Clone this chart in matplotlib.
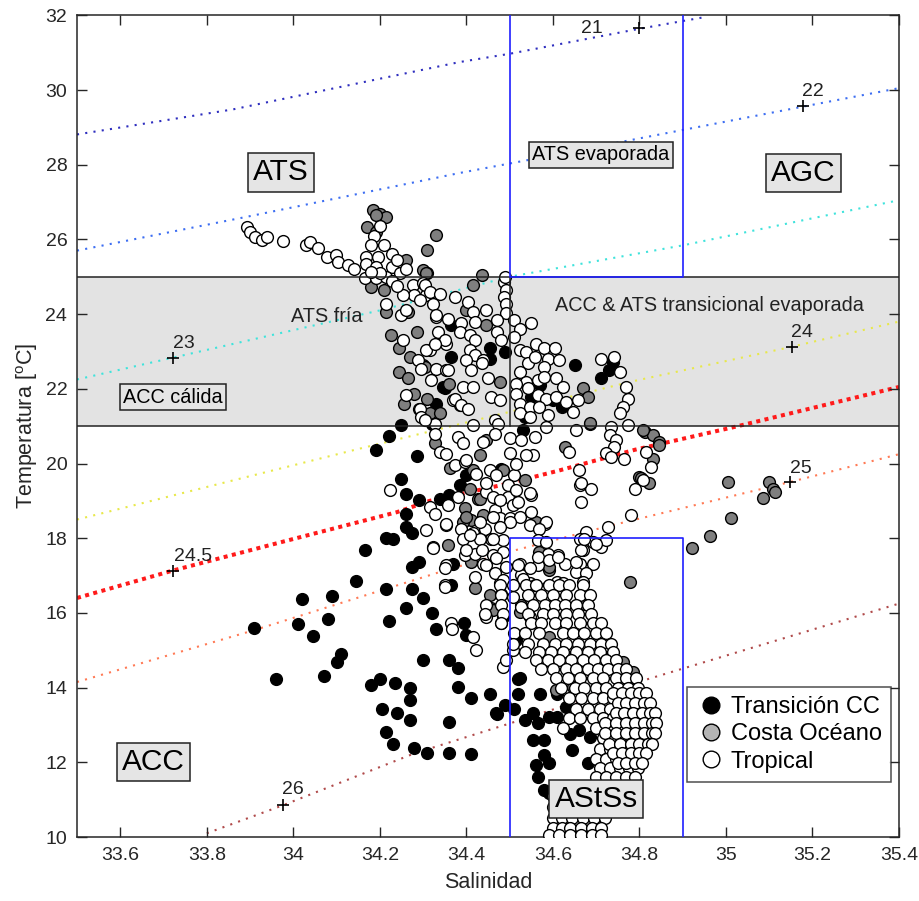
import numpy as np
import matplotlib
matplotlib.use("Agg")
import matplotlib.pyplot as plt
from matplotlib.lines import Line2D

plt.rcParams['font.family'] = ['Liberation Sans', 'DejaVu Sans']
plt.rcParams['mathtext.fontset'] = 'custom'
plt.rcParams['mathtext.rm'] = 'Liberation Sans'

# --- isopycnals (sigma-t), salinity / temperature ---
iso_21_s = [33.50, 33.86, 34.385, 34.50, 34.80, 34.945]
iso_21_t = [28.81, 29.48, 30.75, 30.97, 31.64, 31.94]
iso_22_s = [33.50, 33.89, 34.385, 34.54, 35.18, 35.40]
iso_22_t = [25.70, 26.60, 27.78, 28.12, 29.56, 30.05]
iso_23_s = [33.50, 33.72, 34.20, 34.50, 34.90, 35.40]
iso_23_t = [22.25, 22.83, 24.10, 25.00, 25.84, 27.05]
iso_24_s = [33.50, 34.14, 34.485, 34.78, 35.15, 35.40]
iso_24_t = [18.50, 20.36, 21.34, 22.19, 23.12, 23.80]
iso_245_s = [33.50, 33.72, 33.99, 34.24, 34.315, 34.48, 34.61, 34.79, 35.02, 35.40]
iso_245_t = [16.40, 17.13, 17.95, 18.70, 19.00, 19.42, 19.80, 20.37, 20.98, 22.05]
iso_25_s = [33.50, 33.91, 34.34, 34.50, 34.72, 35.15, 35.40]
iso_25_t = [14.15, 15.54, 17.10, 17.64, 18.30, 19.51, 20.25]
iso_26_s = [33.80, 33.976, 34.28, 34.50, 34.80, 35.40]
iso_26_t = [10.10, 10.85, 12.24, 13.04, 14.16, 16.25]

iso_names = ['21', '22', '23', '24', '24.5', '25', '26']
plus_s = [34.80, 35.177, 33.722, 35.153, 33.722, 35.149, 33.976]
plus_t = [31.65, 29.56, 22.83, 23.12, 17.13, 19.51, 10.85]
name_s = [34.69, 35.202, 33.747, 35.176, 33.769, 35.172, 33.999]
name_t = [31.64, 29.95, 23.21, 23.52, 17.50, 19.87, 11.26]

# --- Transicion CC (black) ---
trans_pts = [
    (34.19, 20.36), (34.22, 20.74), (34.25, 21.03), (34.285, 20.2), (34.25, 19.58), (34.26, 19.18),
    (34.29, 19.02), (34.34, 19.05), (34.36, 19.15), (34.385, 19.42), (34.26, 18.66), (34.26, 18.3),
    (34.275, 18.14), (34.215, 18.0), (34.23, 17.97), (34.165, 17.68), (34.29, 17.37), (34.275, 17.23),
    (34.37, 17.32), (34.145, 16.85), (34.215, 16.64), (34.275, 16.64), (34.30, 16.4), (34.26, 16.13),
    (34.32, 16.0), (34.33, 15.57), (34.22, 15.78), (34.365, 16.74), (34.02, 16.37), (34.09, 16.46),
    (34.01, 15.7), (34.045, 15.39), (34.08, 15.83), (33.91, 15.6), (34.11, 14.9), (34.10, 14.68),
    (33.96, 14.23), (34.07, 14.32), (34.30, 14.75), (34.36, 14.75), (34.38, 14.53), (34.18, 14.07),
    (34.20, 14.23), (34.235, 14.12), (34.27, 14.0), (34.27, 13.68), (34.38, 14.02), (34.205, 13.42),
    (34.24, 13.33), (34.27, 13.13), (34.36, 13.08), (34.215, 12.82), (34.23, 12.5), (34.28, 12.39),
    (34.31, 12.26), (34.36, 12.26), (34.41, 12.22), (34.40, 19.69), (34.48, 19.85), (34.53, 20.89),
    (34.41, 13.71), (34.455, 13.84), (34.47, 13.29), (34.49, 13.53), (34.51, 13.44), (34.52, 13.84),
    (34.52, 14.22), (34.515, 15.27), (34.395, 15.72), (34.40, 15.4), (34.485, 15.9), (34.59, 15.31),
    (34.535, 13.13), (34.555, 13.31), (34.565, 13.04), (34.555, 12.61), (34.58, 12.6), (34.57, 13.84),
    (34.61, 13.84), (34.61, 13.22), (34.59, 13.22), (34.63, 13.49), (34.56, 11.93), (34.58, 12.2),
    (34.565, 11.61), (34.59, 11.97), (34.58, 11.26), (34.59, 11.17), (34.64, 12.77), (34.66, 12.86),
    (34.685, 12.68), (34.645, 12.33), (34.68, 11.97), (34.785, 14.24), (34.523, 14.25), (34.469, 13.31),
    (34.365, 23.70), (34.365, 22.86), (34.455, 22.81), (34.455, 23.08), (34.49, 22.99), (34.35, 22.01),
    (34.33, 21.6), (34.32, 21.07), (34.65, 22.63), (34.71, 22.28), (34.73, 22.5), (34.74, 22.72),
    (34.57, 22.09), (34.60, 21.69), (34.62, 21.52), (34.55, 21.78), (34.535, 21.25), (34.346, 22.05),
]

# --- Costa Oceano (gray) ---
costa_pts = [
    (34.185, 26.78), (34.20, 26.69), (34.215, 26.6), (34.19, 26.65), (34.17, 26.33), (34.19, 26.2),
    (34.26, 25.44), (34.30, 25.18), (34.18, 24.73), (34.21, 24.64), (34.215, 24.06), (34.265, 24.06),
    (34.225, 23.44), (34.285, 23.52), (34.245, 23.08), (34.27, 22.85), (34.245, 22.45), (34.265, 22.28),
    (34.30, 22.65), (34.28, 21.87), (34.29, 21.47), (34.255, 21.6), (34.33, 26.13), (34.31, 25.71),
    (34.31, 25.1), (34.36, 22.14), (34.315, 21.34), (34.31, 21.74), (34.627, 20.43), (34.812, 20.85),
    (34.831, 20.76), (34.846, 20.58), (34.831, 20.13), (34.80, 19.64), (34.823, 19.47), (34.922, 17.73),
    (34.963, 18.05), (34.779, 16.82), (34.685, 21.05), (35.004, 19.51), (35.012, 18.53), (35.085, 19.09),
    (35.10, 19.51), (35.108, 19.33), (35.114, 19.24), (34.327, 20.54), (34.361, 19.87), (34.431, 20.22),
    (34.446, 20.62), (34.408, 19.33), (34.427, 19.06), (34.396, 18.8), (34.438, 18.62), (34.535, 19.55),
    (34.411, 18.48), (34.392, 18.44), (34.357, 17.81), (34.411, 17.37), (34.419, 16.66), (34.454, 16.48),
    (34.569, 17.64), (34.592, 17.14), (34.562, 18.44), (34.458, 16.12), (34.523, 16.03), (34.673, 16.25),
    (34.708, 15.54), (34.762, 14.69), (34.785, 14.42), (34.592, 15.36), (34.646, 14.02), (34.608, 13.93),
    (34.461, 16.07), (34.527, 16.21), (34.592, 17.23), (34.40, 18.57), (34.431, 19.06), (34.415, 19.82),
    (34.485, 19.82), (34.804, 19.6), (34.307, 25.09), (34.435, 25.04), (34.415, 24.77), (34.40, 24.1),
    (34.446, 23.7), (34.304, 22.59), (34.477, 22.19), (34.385, 21.56), (34.669, 22.01), (34.681, 21.78),
    (34.685, 21.09), (34.338, 21.34), (34.846, 20.5), (34.808, 20.89),
]

# --- Tropical (white) ---
trop_tail = [
    (33.892, 26.33), (33.901, 26.20), (33.911, 26.07), (33.927, 25.98), (33.938, 26.07), (33.975, 25.95),
    (34.029, 25.84), (34.038, 25.93), (34.057, 25.76), (34.077, 25.53), (34.098, 25.58), (34.103, 25.40),
    (34.127, 25.31), (34.140, 25.22),
]
trop_upper = [
    (34.186, 26.09), (34.180, 25.84), (34.209, 25.84), (34.169, 25.53), (34.196, 25.53), (34.167, 25.35),
    (34.192, 25.26), (34.228, 25.60), (34.229, 25.26), (34.246, 25.09), (34.165, 24.96), (34.192, 24.96),
    (34.215, 25.00), (34.227, 24.88), (34.277, 24.77), (34.300, 24.82), (34.307, 24.50), (34.280, 24.50),
    (34.254, 24.50), (34.215, 24.28), (34.250, 23.97), (34.261, 24.10), (34.254, 23.30), (34.288, 22.77),
    (34.296, 22.54), (34.260, 21.83), (34.292, 21.47), (34.292, 24.37), (34.330, 23.92), (34.315, 23.03),
    (34.330, 22.54), (34.319, 22.23), (34.296, 21.25), (34.327, 21.07), (34.354, 22.50), (34.354, 23.21),
    (34.369, 21.70), (34.200, 26.35), (34.240, 25.45), (34.260, 25.20), (34.200, 25.10), (34.240, 24.75),
    (34.180, 25.12),
]
trop_band = [
    (34.304, 24.77), (34.315, 24.59), (34.338, 24.55), (34.323, 24.28), (34.373, 24.46), (34.404, 24.33),
    (34.415, 24.06), (34.446, 24.10), (34.488, 24.86), (34.492, 24.64), (34.488, 24.46), (34.492, 24.28),
    (34.491, 24.02), (34.330, 23.97), (34.357, 23.88), (34.388, 23.75), (34.419, 23.79), (34.470, 23.84),
    (34.511, 23.84), (34.523, 23.61), (34.550, 23.75), (34.334, 23.52), (34.350, 23.30), (34.385, 23.52),
    (34.408, 23.44), (34.419, 23.30), (34.470, 23.52), (34.481, 23.30), (34.511, 23.39), (34.307, 23.03),
    (34.327, 23.21), (34.408, 23.03), (34.419, 22.90), (34.438, 22.77), (34.523, 23.03), (34.538, 22.99),
    (34.562, 23.21), (34.580, 23.08), (34.604, 23.08), (34.589, 22.81), (34.615, 22.77), (34.542, 22.68),
    (34.558, 22.85), (34.357, 22.50), (34.400, 22.77), (34.411, 22.50), (34.435, 22.68), (34.580, 22.59),
    (34.523, 22.45), (34.538, 22.19), (34.565, 22.23), (34.580, 22.32), (34.608, 22.28), (34.623, 22.06),
    (34.515, 22.14), (34.515, 21.87), (34.542, 22.01), (34.565, 21.83), (34.585, 21.74), (34.608, 21.78),
    (34.392, 22.06), (34.415, 22.06), (34.450, 22.28), (34.458, 21.78), (34.477, 21.69), (34.373, 21.74),
    (34.388, 21.56), (34.404, 21.47), (34.523, 21.60), (34.523, 21.34), (34.546, 21.52), (34.569, 21.52),
    (34.589, 21.29), (34.646, 21.38), (34.658, 21.69), (34.631, 21.65), (34.466, 21.16), (34.304, 21.16),
    (34.546, 21.25), (34.742, 22.85), (34.754, 22.45), (34.769, 22.06), (34.773, 21.74), (34.762, 21.52),
    (34.754, 21.34), (34.712, 22.81), (34.773, 21.03), (34.490, 25.00),
]
trop_mid = [
    (34.585, 20.98), (34.654, 20.89), (34.735, 20.98), (34.731, 20.76), (34.746, 20.62), (34.742, 20.45),
    (34.723, 20.27), (34.735, 20.18), (34.765, 20.13), (34.638, 20.31), (34.815, 20.31), (34.827, 19.91),
    (34.808, 19.55), (34.789, 19.33), (34.660, 19.82), (34.663, 19.42), (34.688, 19.33), (34.664, 18.97),
    (34.781, 18.62), (34.727, 18.30), (34.581, 18.39), (34.676, 18.17), (34.663, 17.99), (34.692, 17.90),
    (34.712, 17.77), (34.723, 17.95), (34.669, 17.68), (34.611, 17.55), (34.589, 17.59), (34.627, 17.32),
    (34.662, 17.32), (34.692, 17.32), (34.654, 17.10), (34.677, 17.06), (34.669, 16.83), (34.610, 16.83),
    (34.623, 16.79), (34.327, 20.80), (34.415, 21.03), (34.380, 20.71), (34.392, 20.54), (34.438, 20.58),
    (34.473, 21.07), (34.466, 20.80), (34.500, 20.67), (34.527, 20.62), (34.558, 20.71), (34.338, 20.31),
    (34.352, 20.25), (34.373, 19.96), (34.396, 20.04), (34.423, 19.73), (34.454, 19.82), (34.511, 19.69),
    (34.515, 20.00), (34.554, 20.22), (34.500, 20.27), (34.223, 19.29), (34.315, 18.84), (34.327, 18.66),
    (34.357, 18.88), (34.380, 19.11), (34.446, 19.24), (34.461, 19.11), (34.496, 19.11), (34.508, 18.88),
    (34.550, 19.15), (34.466, 18.75), (34.477, 18.53), (34.500, 18.53), (34.523, 18.57), (34.546, 18.35),
    (34.585, 18.44), (34.307, 18.21), (34.354, 18.35), (34.388, 18.26), (34.415, 18.13), (34.442, 18.26),
    (34.458, 17.99), (34.485, 17.95), (34.323, 17.77), (34.392, 17.99), (34.431, 17.99), (34.396, 17.55),
    (34.419, 17.59), (34.438, 17.32), (34.461, 17.55), (34.485, 17.64), (34.469, 17.23), (34.492, 17.23),
    (34.354, 17.28), (34.350, 16.74), (34.419, 16.97), (34.477, 16.79), (34.481, 16.52), (34.523, 17.32),
    (34.527, 17.01), (34.546, 16.79), (34.565, 17.28), (34.585, 16.66), (34.569, 18.26), (34.519, 18.97),
    (34.400, 20.09), (34.446, 19.47), (34.469, 19.69), (34.496, 19.42), (34.477, 19.02), (34.515, 19.29),
    (34.538, 20.22), (34.546, 19.20), (34.550, 18.71), (34.500, 18.44), (34.477, 18.30), (34.461, 18.57),
    (34.431, 18.44), (34.408, 18.08), (34.461, 17.99), (34.400, 17.68), (34.435, 17.68), (34.446, 17.28),
    (34.469, 17.46), (34.466, 17.06), (34.485, 16.88), (34.446, 15.90), (34.481, 15.72), (34.415, 15.36),
    (34.423, 15.00), (34.485, 14.56), (34.508, 15.00), (34.565, 17.95), (34.585, 17.90), (34.565, 17.50),
    (34.546, 17.19), (34.592, 17.41), (34.611, 17.50), (34.654, 17.37), (34.666, 17.68), (34.673, 17.99),
    (34.700, 17.85), (34.666, 19.47), (34.519, 17.28), (34.531, 16.92), (34.558, 16.74), (34.508, 16.43),
    (34.527, 16.16), (34.546, 15.90), (34.354, 18.37), (34.323, 17.75), (34.350, 17.19), (34.350, 16.70),
    (34.365, 15.72), (34.367, 15.58),
]
# dense core of the cloud, one row of salinities per temperature
trop_rows = [
    (16.74, [34.477, 34.508, 34.538, 34.562, 34.592, 34.615, 34.638, 34.669]),
    (16.47, [34.481, 34.542, 34.573, 34.600, 34.631, 34.662, 34.685]),
    (16.21, [34.446, 34.481, 34.554, 34.581, 34.604, 34.627, 34.654, 34.681]),
    (15.98, [34.442, 34.485, 34.542, 34.577, 34.600, 34.631, 34.658, 34.688]),
    (15.72, [34.481, 34.550, 34.573, 34.604, 34.631, 34.662, 34.692, 34.712]),
    (15.45, [34.511, 34.535, 34.569, 34.623, 34.646, 34.673, 34.700, 34.723]),
    (15.18, [34.508, 34.542, 34.577, 34.604, 34.631, 34.658, 34.685, 34.712, 34.735]),
    (14.96, [34.535, 34.569, 34.596, 34.623, 34.654, 34.681, 34.708, 34.739]),
    (14.74, [34.492, 34.562, 34.589, 34.615, 34.642, 34.669, 34.696, 34.723, 34.746]),
    (14.51, [34.573, 34.600, 34.631, 34.654, 34.681, 34.704, 34.727, 34.750, 34.769]),
    (14.25, [34.608, 34.635, 34.662, 34.692, 34.715, 34.746, 34.769, 34.792]),
    (13.98, [34.619, 34.650, 34.673, 34.700, 34.723, 34.750, 34.773, 34.796]),
    (13.71, [34.638, 34.666, 34.692, 34.715, 34.739, 34.762, 34.785, 34.808]),
    (13.44, [34.654, 34.681, 34.708, 34.731, 34.754, 34.777, 34.800, 34.820]),
    (13.18, [34.638, 34.662, 34.692, 34.715, 34.739, 34.762, 34.785, 34.808, 34.827]),
    (12.91, [34.623, 34.700, 34.731, 34.754, 34.777, 34.800, 34.823]),
    (12.64, [34.715, 34.739, 34.758, 34.781, 34.804, 34.823]),
    (12.37, [34.708, 34.731, 34.750, 34.769, 34.792, 34.812]),
    (12.10, [34.700, 34.723, 34.746, 34.765, 34.785, 34.804]),
    (11.84, [34.708, 34.731, 34.754, 34.777, 34.796]),
    (11.61, [34.700, 34.723, 34.746, 34.769, 34.789]),
    (11.35, [34.620, 34.645, 34.670, 34.695, 34.720, 34.745, 34.770]),
    (11.10, [34.600, 34.625, 34.650, 34.675, 34.700, 34.725, 34.750]),
    (10.80, [34.600, 34.625, 34.650, 34.675, 34.700, 34.725]),
    (10.50, [34.600, 34.620, 34.645, 34.670, 34.695, 34.720]),
    (10.25, [34.600, 34.620, 34.640, 34.665, 34.690, 34.710]),
    (10.05, [34.590, 34.615, 34.640, 34.665, 34.690, 34.710]),
]
# extra, tightly packed stations on the right bulge (12-14 degC)
trop_bulge = [
    (13.85, [34.740, 34.760, 34.780, 34.800, 34.815]),
    (13.58, [34.750, 34.770, 34.790, 34.810, 34.825]),
    (13.31, [34.745, 34.765, 34.785, 34.805, 34.825, 34.835]),
    (13.05, [34.720, 34.745, 34.770, 34.790, 34.810, 34.830, 34.838]),
    (12.78, [34.720, 34.745, 34.770, 34.790, 34.810, 34.830, 34.835]),
    (12.50, [34.730, 34.755, 34.780, 34.800, 34.820, 34.830]),
    (12.24, [34.740, 34.760, 34.780, 34.800, 34.815]),
    (11.97, [34.750, 34.770, 34.790, 34.805]),
]

xticks = [33.6, 33.8, 34.0, 34.2, 34.4, 34.6, 34.8, 35.0, 35.2, 35.4]
xtick_labels = ['33.6', '33.8', '34', '34.2', '34.4', '34.6', '34.8', '35', '35.2', '35.4']
yticks = list(range(10, 33, 2))

# ---------------------------------------------------------------
fig = plt.figure(figsize=(9.2, 9.01), dpi=100)
ax = fig.add_axes([0.0837, 0.071, 0.8935, 0.912])
ax.set_xlim(33.5, 35.4)
ax.set_ylim(10, 32)

# shaded band 21-25 degC
ax.axhspan(21, 25, color='#e3e3e3', zorder=0, lw=0)
ax.axhline(21, color='#222222', lw=1.1, zorder=5)
ax.axhline(25, color='#222222', lw=1.1, zorder=5)
ax.plot([34.5, 34.5], [21, 25], color='#222222', lw=1.1, zorder=5)

# isopycnals
dot = (0, (1, 3.0))
iso_kw = dict(lw=1.5, ls=dot, dash_capstyle='butt', zorder=1)
ax.plot(iso_21_s, iso_21_t, color='#2e2ebf', **iso_kw)
ax.plot(iso_22_s, iso_22_t, color='#3d6ef2', **iso_kw)
ax.plot(iso_23_s, iso_23_t, color='#3fe3dc', **iso_kw)
ax.plot(iso_24_s, iso_24_t, color='#e8e84a', **iso_kw)
ax.plot(iso_245_s, iso_245_t, color='#ff1a1a', lw=2.9, ls=(0, (1, 1.1)), dash_capstyle='butt', zorder=1)
ax.plot(iso_25_s, iso_25_t, color='#ff7a55', **iso_kw)
ax.plot(iso_26_s, iso_26_t, color='#b04a4a', **iso_kw)

ax.scatter(plus_s, plus_t, marker='+', s=70, color='k', lw=1.2, zorder=6)
for nm, xs, ys in zip(iso_names, name_s, name_t):
    ax.text(xs, ys, nm, fontsize=14, ha='center', va='center', color='#222222', zorder=6)

# scatter of stations
ts = np.array(trans_pts)
cs = np.array(costa_pts)
row_pts = [(s, t) for t, srow in trop_rows + trop_bulge for s in srow]
tr = np.array(trop_tail + trop_upper + trop_band + trop_mid + row_pts)

kw = dict(s=72, edgecolors='k', linewidths=1.0)
ax.scatter(ts[:, 0], ts[:, 1], c='k', zorder=2, **kw)
ax.scatter(cs[:, 0], cs[:, 1], c='#7f7f7f', zorder=3, **kw)
ax.scatter(tr[:, 0], tr[:, 1], c='white', zorder=4, **kw)

# water-mass boxes
blue = '#1f1fff'
ax.plot([34.5, 34.5, 34.9, 34.9], [32, 25, 25, 32], color=blue, lw=1.2, zorder=5)
ax.plot([34.5, 34.5, 34.9, 34.9], [10, 18, 18, 10], color=blue, lw=1.2, zorder=5)

box = dict(boxstyle='square,pad=0.18', fc='#e5e5e5', ec='#222222', lw=1.1)
big = 21.5
ax.text(33.971, 27.80, 'ATS', fontsize=big, ha='center', va='center', bbox=box, zorder=7)
ax.text(35.179, 27.78, 'AGC', fontsize=big, ha='center', va='center', bbox=box, zorder=7)
ax.text(33.677, 12.01, 'ACC', fontsize=big, ha='center', va='center', bbox=box, zorder=7)
ax.text(34.700, 11.02, 'AStSs', fontsize=big, ha='center', va='center', bbox=box, zorder=7)
ax.text(34.711, 28.27, 'ATS evaporada', fontsize=14.3, ha='center', va='center', bbox=box, zorder=7)
ax.text(33.722, 21.78, 'ACC cálida', fontsize=14.3, ha='center', va='center', bbox=box, zorder=7)
ax.text(34.077, 23.94, 'ATS fría', fontsize=14.3, ha='center', va='center', color='#222222', zorder=7)
ax.text(34.962, 24.24, 'ACC & ATS transicional evaporada', fontsize=14.3, ha='center',
        va='center', color='#222222', zorder=7)

# axes styling
ax.set_xticks(xticks)
ax.set_xticklabels(xtick_labels)
ax.set_yticks(yticks)
ax.tick_params(direction='in', top=True, right=True, length=7, width=1.0,
               labelsize=14, colors='#262626', pad=7)
for sp in ax.spines.values():
    sp.set_linewidth(1.1)
    sp.set_color('#262626')
ax.set_xlabel('Salinidad', fontsize=15.5, color='#262626', labelpad=6)
ax.set_ylabel(r'Temperatura [$^{\rm o}$C]', fontsize=15.5, color='#262626', labelpad=4)

handles = [
    Line2D([], [], ls='none', marker='o', ms=12, mfc='k', mec='k'),
    Line2D([], [], ls='none', marker='o', ms=12, mfc='#b4b4b4', mec='k'),
    Line2D([], [], ls='none', marker='o', ms=12, mfc='white', mec='k'),
]
leg = ax.legend(handles, ['Transición CC', 'Costa Océano', 'Tropical'], loc='lower left',
                bbox_to_anchor=(0.742, 0.067), fontsize=17, frameon=True, fancybox=False,
                borderpad=0.4, labelspacing=0.22, handletextpad=0.25, handlelength=1.2,
                borderaxespad=0)
leg.get_frame().set_edgecolor('#222222')
leg.get_frame().set_linewidth(1.1)
leg.set_zorder(8)

fig.savefig('out.png', dpi=100)
